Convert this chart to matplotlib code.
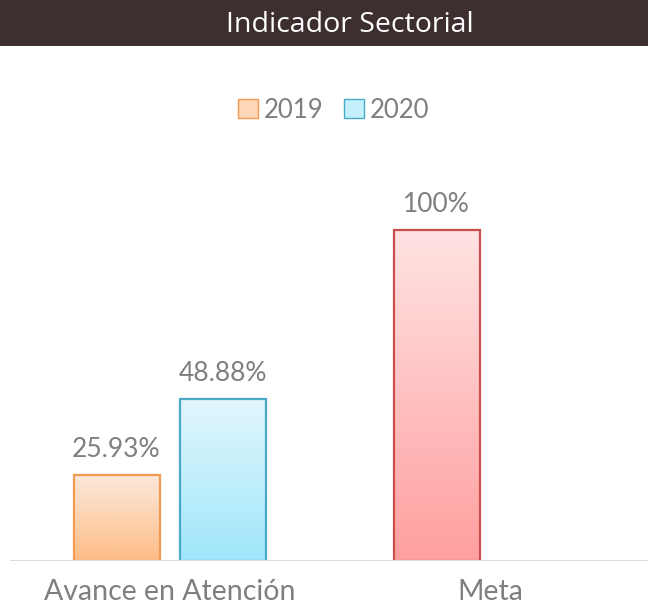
import numpy as np
import matplotlib.pyplot as plt
from matplotlib.patches import Patch, Rectangle
from matplotlib.colors import LinearSegmentedColormap

# data
categories = ['Avance en Atención', 'Meta']
series_2019 = [25.93, 100]
series_2020 = [48.88, None]
labels_2019 = ['25.93%', '100%']
labels_2020 = ['48.88%', '']

plt.rcParams['font.family'] = ['Lato', 'DejaVu Sans']

W, H = 648, 608
fig = plt.figure(figsize=(W / 100, H / 100), dpi=100)

# title bar
fig.patches.append(Rectangle((0, 1 - 46 / H), 1, 46 / H, transform=fig.transFigure,
                             facecolor='#3d2e30', edgecolor='none', zorder=0))
fig.text(350 / W, 1 - 25 / H, 'Indicador Sectorial', color='white', fontsize=20.5,
         ha='center', va='center', family=['Open Sans', 'DejaVu Sans'])

ax = fig.add_axes([10 / W, 47 / H, 640 / W, 364 / H])

x = np.arange(len(categories))
width = 0.269
off = 0.167

styles = {
    '2019': ('#fde8da', '#fdbd86', '#f29a50'),
    '2020': ('#e2f7fd', '#9fe6fa', '#4aa9c9'),
    'meta': ('#ffe3e3', '#ff9f9f', '#c94f4f'),
}


def grad_bar(xc, h, style):
    top, bot, edge = styles[style]
    cmap = LinearSegmentedColormap.from_list('g', [bot, top])
    grad = np.linspace(0, 1, 256).reshape(-1, 1)
    ax.imshow(grad, extent=(xc - width / 2, xc + width / 2, 0, h), origin='lower',
              cmap=cmap, aspect='auto', zorder=2)
    ax.bar(xc, h, width, facecolor='none', edgecolor=edge, linewidth=1.6, zorder=3)


for i in range(len(categories)):
    v = series_2019[i]
    grad_bar(x[i] - off, v, '2019' if i == 0 else 'meta')
    ax.text(x[i] - off, v + 4, labels_2019[i], ha='center', va='bottom',
            fontsize=19, color='#7f7f7f')
    v2 = series_2020[i]
    if v2 is not None:
        grad_bar(x[i] + off, v2, '2020')
        ax.text(x[i] + off, v2 + 4, labels_2020[i], ha='center', va='bottom',
                fontsize=19, color='#7f7f7f')

ax.set_xlim(-0.5, 1.5)
ax.set_ylim(0, 110)
ax.axhline(0, color='#d9d9d9', linewidth=1.5, zorder=4)
ax.set_xticks(x)
ax.set_xticklabels(categories, fontsize=20.5, color='#7f7f7f')
ax.tick_params(axis='x', length=0, pad=13)
ax.set_yticks([])
for s in ax.spines.values():
    s.set_visible(False)

handles = [Patch(facecolor='#fed6b8', edgecolor='#f29a50', label='2019'),
           Patch(facecolor='#c4effc', edgecolor='#4aa9c9', label='2020')]
fig.legend(handles=handles, loc='center', bbox_to_anchor=(334 / W, 1 - 110 / H),
           ncol=2, frameon=False, fontsize=18.5, labelcolor='#7f7f7f',
           handlelength=0.75, handleheight=0.75, handletextpad=0.25, columnspacing=0.8)

fig.savefig('out.png', dpi=100)
